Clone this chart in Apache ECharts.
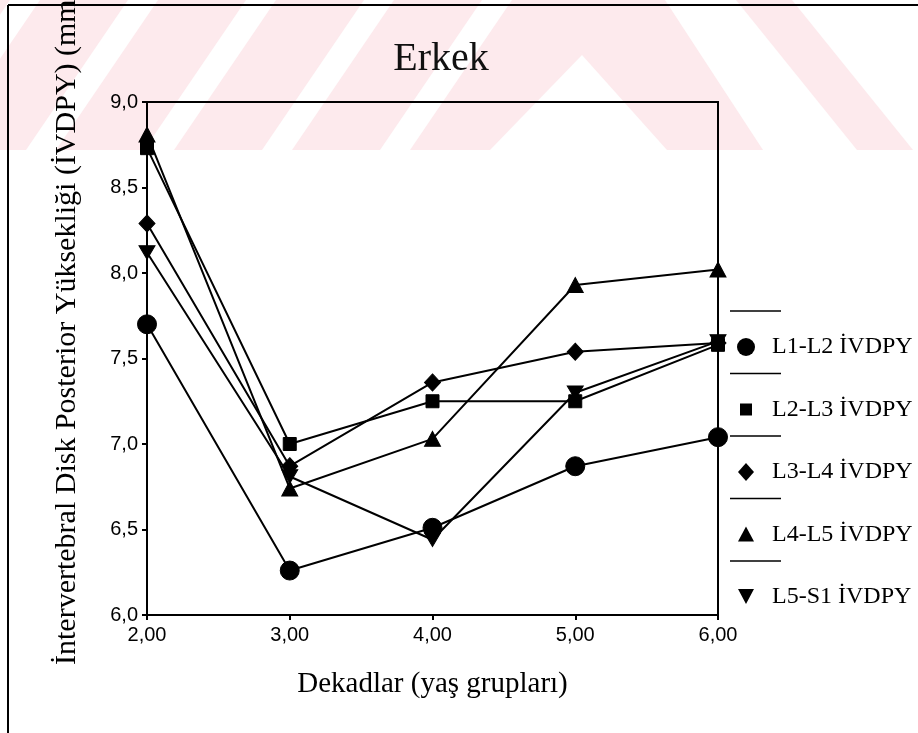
<!DOCTYPE html>
<html>
<head>
<meta charset="utf-8">
<script src="https://cdn.jsdelivr.net/npm/echarts@6/dist/echarts.min.js"></script>
<style>
html,body{margin:0;padding:0;background:#fff;}
#chart{width:918px;height:733px;}
</style>
</head>
<body>
<div id="chart"></div>
<script>
// ---- data ----
const decades = [2, 3, 4, 5, 6];
const seriesNames = ['L1-L2 İVDPY', 'L2-L3 İVDPY', 'L3-L4 İVDPY', 'L4-L5 İVDPY', 'L5-S1 İVDPY'];
const l1l2 = [7.70, 6.26, 6.51, 6.87, 7.04];
const l2l3 = [8.73, 7.00, 7.25, 7.25, 7.58];
const l3l4 = [8.29, 6.87, 7.36, 7.54, 7.59];
const l4l5 = [8.81, 6.74, 7.03, 7.93, 8.02];
const l5s1 = [8.12, 6.81, 6.44, 7.30, 7.60];
const yTicks = [6.0, 6.5, 7.0, 7.5, 8.0, 8.5, 9.0];
const xTicks = [2, 3, 4, 5, 6];
const titleText = 'Erkek';
const xTitle = 'Dekadlar (yaş grupları)';
const yTitle = 'İntervertebral Disk Posterior Yüksekliği (İVDPY) (mm)';

const allValues = [l1l2, l2l3, l3l4, l4l5, l5s1];
const downTri = 'path://M0,0 L10,0 L5,9 Z';
const symbols = ['circle', 'rect', 'diamond', 'triangle', downTri];
const symbolSizes = [19, 13, [16, 17], [16, 15], [16, 15]];

const chart = echarts.init(document.getElementById('chart'));

// watermark band (decorative)
const pink = '#fdeaed';
const wm = [];
wm.push({type:'polygon', silent:true, z:-100, shape:{points:[[0,0],[665,0],[763,150],[0,150]]}, style:{fill:pink}});
// white "/" stripes on the left part
const slope = 0.68, sw = 30;
for (let k = -1; k <= 3; k++) {
  const x0 = 380 - 118 * (3 - k);
  wm.push({type:'polygon', silent:true, z:-99, shape:{points:[[x0,150],[x0+sw,150],[x0+sw+150*slope,0],[x0+150*slope,0]]}, style:{fill:'#fff'}});
}
// white A shape
wm.push({type:'polygon', silent:true, z:-98, shape:{points:[[582,55],[667,150],[490,150]]}, style:{fill:'#fff'}});
// pink "\" stripe on the right
wm.push({type:'polygon', silent:true, z:-98, shape:{points:[[736,0],[792,0],[913,150],[857,150]]}, style:{fill:pink}});

// legend (graphic)
const legTop = 347, legStep = 62.5;
const legG = [];
seriesNames.forEach((n, i) => {
  const cy = legTop + i * legStep;
  legG.push({type:'line', silent:true, shape:{x1:730, y1:cy-36, x2:781, y2:cy-36}, style:{stroke:'#000', lineWidth:1.5}});
  legG.push({type:'text', silent:true, x:772, y:cy, style:{text:n, font:'24px "Liberation Serif"', fill:'#000', textAlign:'left', textVerticalAlign:'middle'}});
});
legG.push({type:'circle', silent:true, shape:{cx:746, cy:legTop, r:9}, style:{fill:'#000'}});
legG.push({type:'rect', silent:true, shape:{x:740, y:legTop+legStep-6, width:12, height:12}, style:{fill:'#000'}});
legG.push({type:'polygon', silent:true, shape:{points:[[746,legTop+2*legStep-9],[754,legTop+2*legStep],[746,legTop+2*legStep+9],[738,legTop+2*legStep]]}, style:{fill:'#000'}});
legG.push({type:'polygon', silent:true, shape:{points:[[746,legTop+3*legStep-8],[754,legTop+3*legStep+7],[738,legTop+3*legStep+7]]}, style:{fill:'#000'}});
legG.push({type:'polygon', silent:true, shape:{points:[[738,legTop+4*legStep-8],[754,legTop+4*legStep-8],[746,legTop+4*legStep+7]]}, style:{fill:'#000'}});

const option = {
  animation: false,
  backgroundColor: '#fff',
  title: {
    text: titleText, left: 436, top: 34, textAlign: 'center',
    textStyle: {fontFamily: 'Liberation Serif', fontSize: 40, fontWeight: 'normal', color: '#111'}
  },
  grid: {left: 147, right: 200, top: 102, bottom: 118, show: true, borderColor: '#000', borderWidth: 2, backgroundColor: 'transparent'},
  xAxis: {
    type: 'value', min: 2, max: 6, interval: 1,
    axisLine: {show: true, lineStyle: {color: '#000', width: 2}},
    axisTick: {show: true, length: 5, lineStyle: {color: '#000', width: 2}},
    splitLine: {show: false},
    axisLabel: {color: '#000', fontFamily: 'Liberation Sans', fontSize: 20, margin: 10,
      formatter: v => xTicks.includes(v) ? v.toFixed(2).replace('.', ',') : ''},
    name: xTitle, nameLocation: 'middle', nameGap: 55,
    nameTextStyle: {fontFamily: 'Liberation Serif', fontSize: 29, color: '#000'}
  },
  yAxis: {
    type: 'value', min: 6, max: 9, interval: 0.5,
    axisLine: {show: true, lineStyle: {color: '#000', width: 2}},
    axisTick: {show: true, length: 5, lineStyle: {color: '#000', width: 2}},
    splitLine: {show: false},
    axisLabel: {color: '#000', fontFamily: 'Liberation Sans', fontSize: 20, margin: 9,
      formatter: v => yTicks.some(t => Math.abs(t - v) < 1e-9) ? v.toFixed(1).replace('.', ',') : ''}
  },
  graphic: [
    ...wm,
    {type:'line', silent:true, shape:{x1:8, y1:5, x2:918, y2:5}, style:{stroke:'#000', lineWidth:2}},
    {type:'line', silent:true, shape:{x1:8, y1:5, x2:8, y2:733}, style:{stroke:'#000', lineWidth:2}},
    {type:'text', silent:true, x:67, y:665, rotation: Math.PI/2,
      style:{text: yTitle, font:'30px "Liberation Serif"', fill:'#000', textAlign:'left', textVerticalAlign:'middle'}},
    ...legG
  ],
  series: allValues.map((vals, i) => ({
    name: seriesNames[i], type: 'line',
    data: decades.map((d, j) => [d, vals[j]]),
    symbol: symbols[i], symbolSize: symbolSizes[i], symbolKeepAspect: true,
    lineStyle: {color: '#000', width: 2},
    itemStyle: {color: '#000', borderColor: '#000'},
    clip: false, z: 3
  }))
};
chart.setOption(option);
</script>
</body>
</html>
